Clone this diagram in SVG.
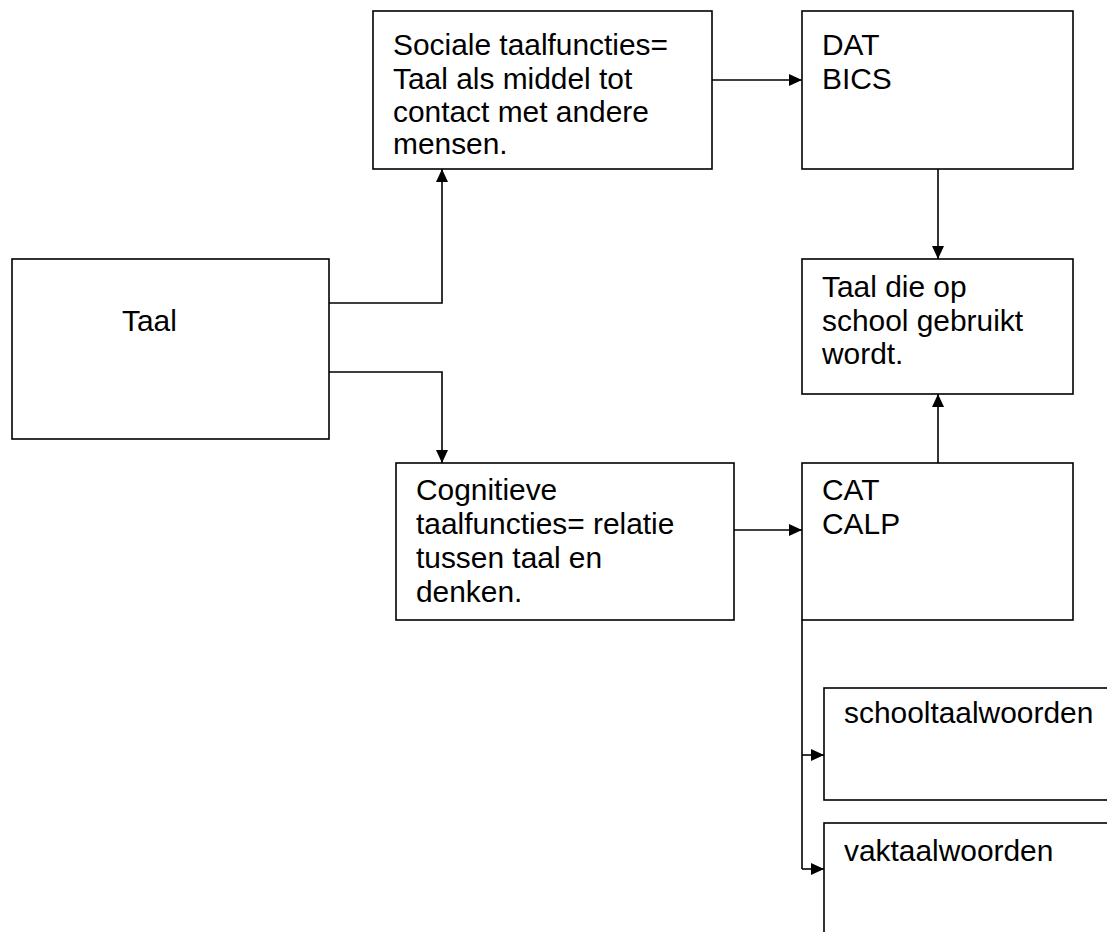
<svg xmlns="http://www.w3.org/2000/svg" width="1107" height="932" viewBox="0 0 1107 932">
<style>
.box{fill:#fff;stroke:#000;stroke-width:1.6}
.t{font-family:"Liberation Sans",Arial,sans-serif;font-size:29.9px;fill:#000}
.c{fill:none;stroke:#000;stroke-width:1.6}
</style>
<defs>
<marker id="ah" viewBox="0 0 13 12" refX="13" refY="6" markerWidth="13" markerHeight="12" markerUnits="userSpaceOnUse" orient="auto">
<path d="M0,0 L13,6 L0,12 Z" fill="#000"/>
</marker>
</defs>
<rect width="1107" height="932" fill="#fff"/>
<g id="taal">
<rect class="box" x="12" y="259" width="317" height="180"/>
<text class="t" x="122" y="331">Taal</text>
</g>
<g id="sociale">
<rect class="box" x="373" y="11" width="339" height="158"/>
<text class="t" x="393" y="55">Sociale taalfuncties=</text>
<text class="t" x="393" y="88.5">Taal als middel tot</text>
<text class="t" x="393" y="121.5">contact met andere</text>
<text class="t" x="393" y="154">mensen.</text>
</g>
<g id="dat">
<rect class="box" x="802" y="11" width="271" height="158"/>
<text class="t" x="822" y="55">DAT</text>
<text class="t" x="822" y="88.5">BICS</text>
</g>
<g id="school">
<rect class="box" x="802" y="259" width="271" height="135"/>
<text class="t" x="822" y="297">Taal die op</text>
<text class="t" x="822" y="330.5">school gebruikt</text>
<text class="t" x="822" y="364">wordt.</text>
</g>
<g id="cognitieve">
<rect class="box" x="396" y="463" width="338" height="157"/>
<text class="t" x="416" y="500">Cognitieve</text>
<text class="t" x="416" y="534">taalfuncties= relatie</text>
<text class="t" x="416" y="568">tussen taal en</text>
<text class="t" x="416" y="602">denken.</text>
</g>
<g id="cat">
<rect class="box" x="802" y="463" width="271" height="157"/>
<text class="t" x="822" y="500">CAT</text>
<text class="t" x="822" y="534">CALP</text>
</g>
<g id="schooltaalwoorden">
<rect class="box" x="824" y="688" width="300" height="112"/>
<text class="t" x="844" y="723">schooltaalwoorden</text>
</g>
<g id="vaktaalwoorden">
<rect class="box" x="824" y="823" width="300" height="130"/>
<text class="t" x="844" y="861">vaktaalwoorden</text>
</g>
<g id="connectors">
<path class="c" d="M329,303 H442 V169" marker-end="url(#ah)"/>
<path class="c" d="M329,372 H442 V463" marker-end="url(#ah)"/>
<path class="c" d="M712,80 H802" marker-end="url(#ah)"/>
<path class="c" d="M938,169 V259" marker-end="url(#ah)"/>
<path class="c" d="M938,463 V394" marker-end="url(#ah)"/>
<path class="c" d="M734,530 H802" marker-end="url(#ah)"/>
<path class="c" d="M802,620 V869"/>
<path class="c" d="M802,755 H824" marker-end="url(#ah)"/>
<path class="c" d="M802,869 H824" marker-end="url(#ah)"/>
</g>
</svg>
